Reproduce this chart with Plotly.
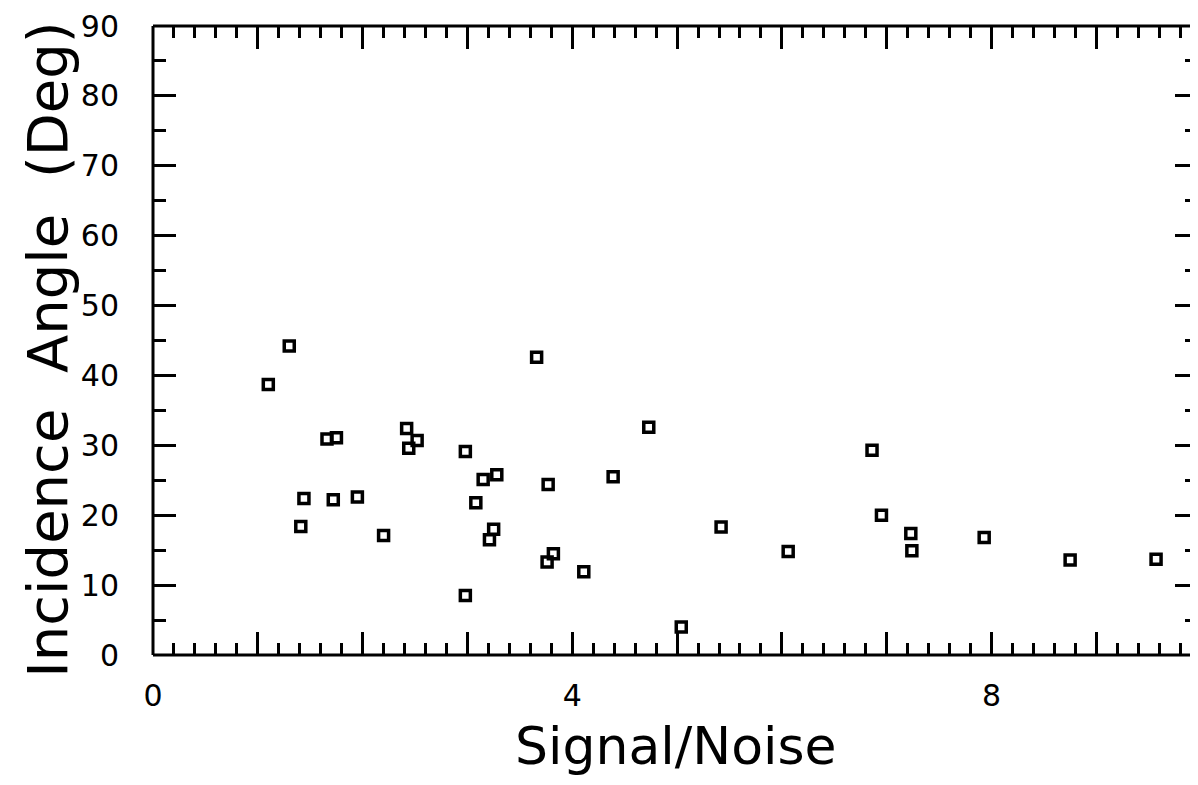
import plotly.graph_objects as go

signal_noise = [1.10, 1.30, 1.41, 1.44, 1.66, 1.75, 1.72, 1.95, 2.20, 2.42, 2.44, 2.52,
                2.98, 2.98, 3.08, 3.15, 3.21, 3.25, 3.28, 3.66, 3.77, 3.76, 3.82, 4.11,
                4.39, 4.73, 5.04, 5.42, 6.06, 6.86, 6.95, 7.23, 7.24, 7.93, 8.75, 9.57]
incidence_deg = [38.7, 44.2, 18.4, 22.4, 30.9, 31.1, 22.2, 22.6, 17.1, 32.4, 29.6, 30.7,
                 29.1, 8.5, 21.8, 25.1, 16.5, 18.0, 25.8, 42.6, 24.4, 13.3, 14.5, 11.9,
                 25.5, 32.6, 4.0, 18.3, 14.8, 29.3, 20.0, 17.4, 14.9, 16.8, 13.6, 13.7]

x_tickvals = list(range(0, 10))
x_ticktext = ["0", "", "", "", "4", "", "", "", "8", ""]
y_tickvals = list(range(0, 91, 10))
y_ticktext = [str(v) for v in y_tickvals]

FONT = "DejaVu Sans"

fig = go.Figure()
fig.add_trace(go.Scatter(
    x=signal_noise, y=incidence_deg, mode="markers",
    marker=dict(symbol="square-open", size=10, color="black", line=dict(width=3.5, color="black")),
    showlegend=False, hoverinfo="skip"))

fig.update_layout(
    width=1190, height=777,
    margin=dict(l=145, r=0, t=16, b=130),
    paper_bgcolor="white", plot_bgcolor="white",
    font=dict(family=FONT, color="black"),
    xaxis=dict(range=[0, 9.97], showgrid=False, zeroline=False, showline=False,
               tickmode="array", tickvals=x_tickvals, ticktext=x_ticktext,
               ticks="inside", ticklen=23, tickwidth=2.5, tickcolor="black",
               mirror="ticks", ticklabelstandoff=20, ticklabeloverflow="allow",
               tickfont=dict(size=30, family=FONT, color="black"),
               minor=dict(tickmode="linear", tick0=0, dtick=0.2, ticks="inside",
                          ticklen=12, tickwidth=2.5, tickcolor="black", showgrid=False)),
    yaxis=dict(range=[0, 90], showgrid=False, zeroline=False, showline=False,
               tickmode="array", tickvals=y_tickvals, ticktext=y_ticktext,
               ticks="inside", ticklen=23, tickwidth=2.5, tickcolor="black",
               mirror="ticks", ticklabelstandoff=33, ticklabeloverflow="allow",
               tickfont=dict(size=30, family=FONT, color="black"),
               minor=dict(tickmode="linear", tick0=0, dtick=5, ticks="inside",
                          ticklen=13, tickwidth=2.5, tickcolor="black", showgrid=False)),
    shapes=[
        dict(type="line", xref="paper", yref="paper", x0=0, x1=0, y0=0, y1=1,
             line=dict(color="black", width=3)),
        dict(type="line", xref="paper", yref="paper", x0=0, x1=1, y0=0, y1=0,
             line=dict(color="black", width=3)),
        dict(type="line", xref="paper", yref="paper", x0=0, x1=1, y0=1, y1=1,
             line=dict(color="black", width=3)),
    ],
    annotations=[
        dict(text="Signal/Noise", xref="paper", yref="paper", x=0.5, y=-0.145,
             xanchor="center", yanchor="middle", showarrow=False,
             font=dict(size=52, family=FONT, color="black")),
        dict(text="Incidence  Angle  (Deg)", xref="paper", yref="paper", x=-0.101, y=0.486,
             xanchor="center", yanchor="middle", textangle=-90, showarrow=False,
             font=dict(size=56, family=FONT, color="black")),
    ],
)

fig.write_html("out.html")
